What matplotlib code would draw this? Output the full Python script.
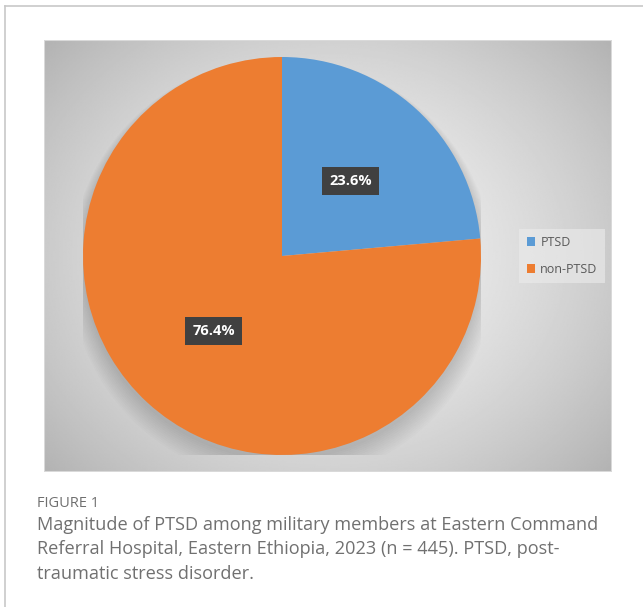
import numpy as np
import matplotlib
matplotlib.use("Agg")
import matplotlib.pyplot as plt
from matplotlib.lines import Line2D
from matplotlib.patches import Circle, Rectangle

plt.rcParams['font.family'] = ['Open Sans', 'DejaVu Sans']

# data
labels = ["PTSD", "non-PTSD"]
shares = [23.6, 76.4]
colors = ["#5B9BD5", "#ED7D31"]

W, H = 643, 607
fig = plt.figure(figsize=(W / 100, H / 100), dpi=100)


def fx(x):
    return x / W


def fy(y):
    return 1 - y / H


# outer frame (top and left only)
fig.add_artist(Line2D([fx(5), fx(5)], [fy(6), 0], color="#c8c8c8", lw=1.2))
fig.add_artist(Line2D([fx(5), 1], [fy(6), fy(6)], color="#c8c8c8", lw=1.2))

# chart panel with radial gradient
px0, py0, px1, py1 = 44, 40, 612, 472
bg = fig.add_axes([fx(px0), fy(py1), fx(px1 - px0), (py1 - py0) / H])
gx, gy = np.meshgrid(np.linspace(-1, 1, 400), np.linspace(-1, 1, 300))
dist = np.sqrt((gx * 0.95) ** 2 + (gy * 0.85) ** 2)
shade = 0.95 - 0.17 * np.clip(dist, 0, 1.3) ** 1.6
bg.imshow(shade, cmap="gray", vmin=0, vmax=1, aspect="auto",
          extent=[0, 1, 0, 1], interpolation="bilinear")
bg.add_patch(Rectangle((0, 0), 1, 1, fill=False, ec="#d9d9d9", lw=1.5,
                       transform=bg.transAxes))
bg.set_axis_off()

# pie
cx, cy, r = 282, 256, 199
ax = fig.add_axes([fx(cx - r), fy(cy + r), fx(2 * r), 2 * r / H])
for i in range(12):
    ax.add_patch(Circle((0, -0.025 - i * 0.004), 1.0 + i * 0.006,
                        color="black", alpha=0.012, lw=0, zorder=0))
wedges, _, autotexts = ax.pie(
    shares, colors=colors, startangle=90, counterclock=False,
    autopct="%.1f%%", pctdistance=0.51, radius=1,
    wedgeprops=dict(lw=0),
    textprops=dict(color="white", fontsize=10.5, fontweight="bold"))
for t in autotexts:
    t.set_bbox(dict(boxstyle="square,pad=0.5", fc="#404040", ec="none"))
ax.set_xlim(-1, 1)
ax.set_ylim(-1, 1)
ax.set_aspect("equal")
ax.set_axis_off()

# legend
leg = fig.legend(wedges, labels, loc="center left",
                 bbox_to_anchor=(fx(519), fy(256)), frameon=True,
                 fontsize=9, handlelength=0.7, handleheight=0.7,
                 handletextpad=0.4, labelspacing=1.1, borderpad=0.6,
                 borderaxespad=0, fancybox=False)
leg.get_frame().set_facecolor("#ececec")
leg.get_frame().set_edgecolor("none")
leg.get_frame().set_alpha(0.6)
for t in leg.get_texts():
    t.set_color("#595959")

# caption
fig.text(fx(37), fy(507), "FIGURE 1", fontsize=10.5, color="#6f6f6f",
         va="baseline", ha="left")
caption = ["Magnitude of PTSD among military members at Eastern Command",
           "Referral Hospital, Eastern Ethiopia, 2023 (n = 445). PTSD, post-",
           "traumatic stress disorder."]
for i, line in enumerate(caption):
    fig.text(fx(37), fy(530 + 24.3 * i), line, fontsize=13.1, color="#707070",
             va="baseline", ha="left")

fig.savefig("out.png", dpi=100, facecolor="white")
